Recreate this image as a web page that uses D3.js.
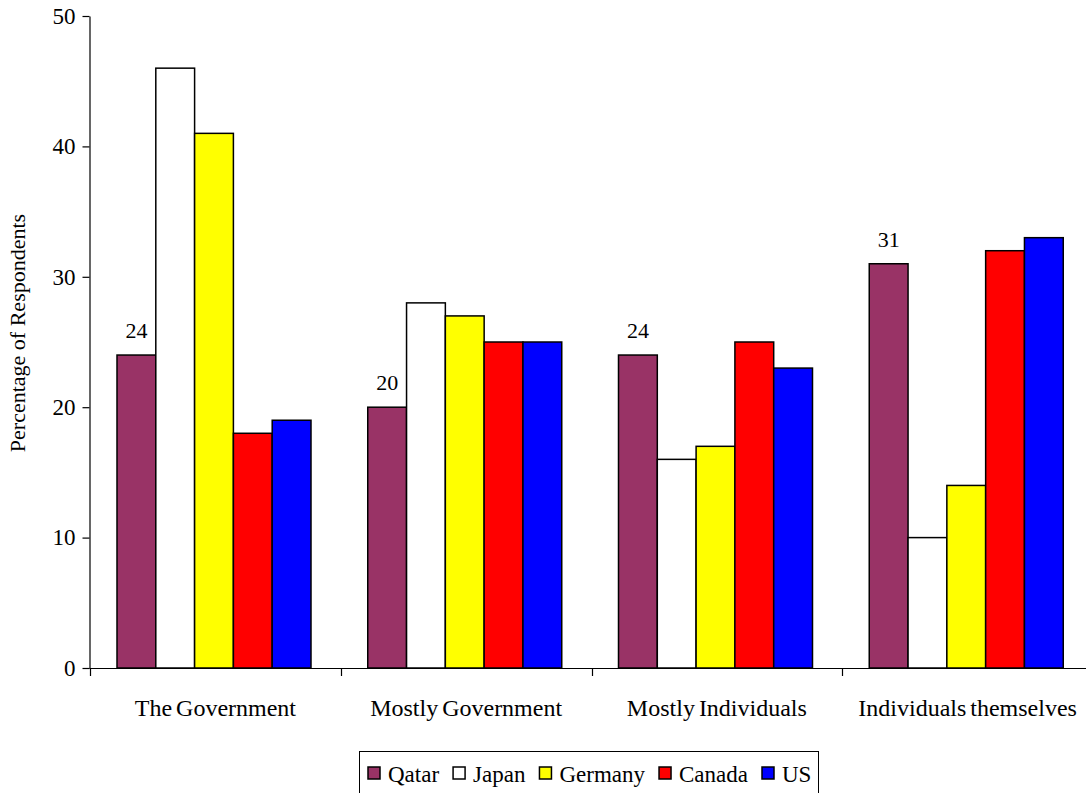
<!DOCTYPE html>
<html><head><meta charset="utf-8">
<script src="https://cdn.jsdelivr.net/npm/d3@7"></script>
<style>
body{margin:0;background:#fff;}
text{font-family:"Liberation Serif","Times New Roman",serif;fill:#000;}
</style></head><body>
<svg id="c" width="1086" height="793"></svg>
<script>
const categories = ["The Government","Mostly Government","Mostly Individuals","Individuals themselves"];
const seriesNames = ["Qatar","Japan","Germany","Canada","US"];
const seriesColors = ["#993366","#FFFFFF","#FFFF00","#FF0000","#0000FF"];
const qatar   = [24,20,24,31];
const japan   = [46,28,16,10];
const germany = [41,27,17,14];
const canada  = [18,25,25,32];
const us      = [19,25,23,33];
const yTicks  = [0,10,20,30,40,50];
const seriesValues = [qatar,japan,germany,canada,us];
const FONT = "Liberation Serif, Times New Roman, serif";

const svg = d3.select("#c");
const x0 = d3.scaleBand().domain(categories).range([90,1093]).paddingInner(0).paddingOuter(0);
const x1 = d3.scaleBand().domain(seriesNames).range([27, 27+194]);
const y = d3.scaleLinear().domain([0,50]).range([668,16]);

// bars
const g = svg.append("g");
categories.forEach((c,ci)=>{
  seriesNames.forEach((s,si)=>{
    const v = seriesValues[si][ci];
    g.append("rect")
      .attr("x", x0(c)+x1(s))
      .attr("y", y(v))
      .attr("width", x1.bandwidth())
      .attr("height", y(0)-y(v))
      .attr("fill", seriesColors[si])
      .attr("stroke","#000").attr("stroke-width",1.5);
  });
  svg.append("text")
    .attr("x", x0(c)+x1("Qatar")+x1.bandwidth()/2)
    .attr("y", y(qatar[ci])-17)
    .attr("text-anchor","middle").attr("font-size",22).attr("font-family",FONT)
    .text(qatar[ci]);
});

// y axis
const ya = svg.append("g").attr("transform","translate(89.5,0)")
  .call(d3.axisLeft(y).tickValues(yTicks).tickSize(7).tickSizeOuter(0));
ya.selectAll("path,line").attr("stroke","#000").attr("stroke-width",1.2);
ya.selectAll("text").attr("font-size",23).attr("font-family",FONT).attr("dx",-4).attr("fill","#000");

// x axis
svg.append("line").attr("x1",89.5).attr("x2",1086).attr("y1",668.5).attr("y2",668.5).attr("stroke","#000").attr("stroke-width",1.2);
const boundaries = categories.map(c=>x0(c));
svg.selectAll(".xt").data(boundaries).enter().append("line")
  .attr("x1",d=>Math.round(d)+0.5).attr("x2",d=>Math.round(d)+0.5)
  .attr("y1",668).attr("y2",676).attr("stroke","#000").attr("stroke-width",1.2);
categories.forEach(c=>{
  svg.append("text").attr("x", x0(c)+x0.bandwidth()/2).attr("y",716)
    .attr("text-anchor","middle").attr("font-size",24).attr("font-family",FONT)
    .attr("word-spacing",-2).text(c);
});

// y title
svg.append("text").attr("transform","translate(25,333) rotate(-90)")
  .attr("text-anchor","middle").attr("font-size",22).attr("font-family",FONT).text("Percentage of Respondents");

// legend
const lg = svg.append("g");
lg.append("rect").attr("x",359.5).attr("y",751.5).attr("width",459).attr("height",45)
  .attr("fill","#fff").attr("stroke","#000").attr("stroke-width",1);
let lx = 368;
seriesNames.forEach((s,i)=>{
  lg.append("rect").attr("x",lx).attr("y",767).attr("width",12).attr("height",12)
    .attr("fill",seriesColors[i]).attr("stroke","#000").attr("stroke-width",1.5);
  const t = lg.append("text").attr("x",lx+20).attr("y",782).attr("font-size",23).attr("font-family",FONT).text(s);
  lx += 20 + t.node().getComputedTextLength() + 14;
});
</script></body></html>
